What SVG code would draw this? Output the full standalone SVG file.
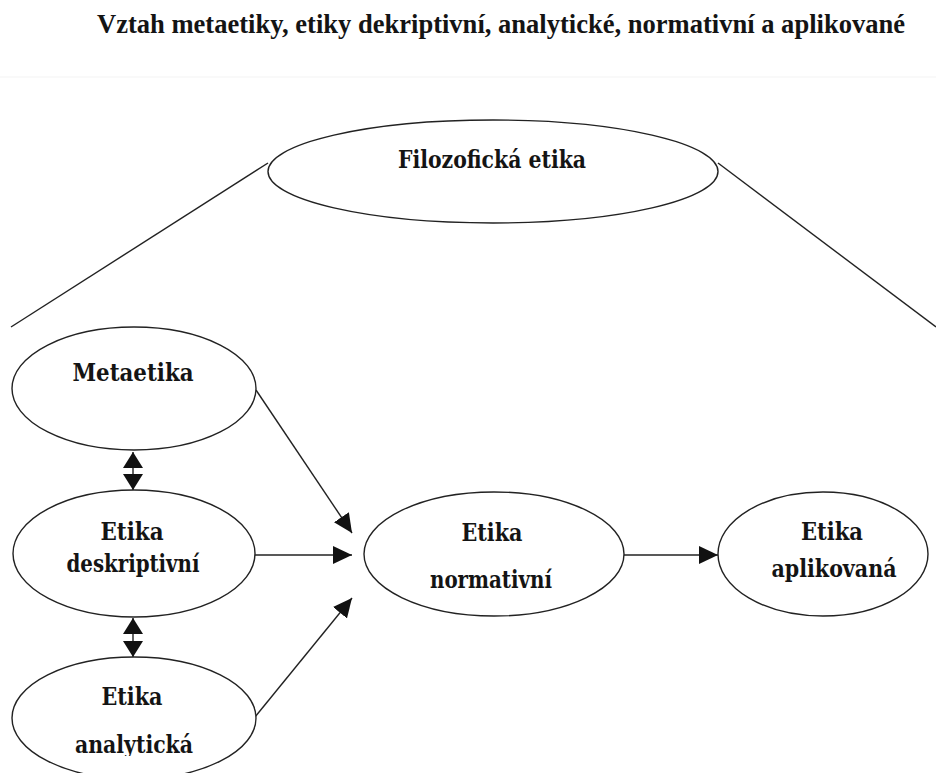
<svg xmlns="http://www.w3.org/2000/svg" width="936" height="773" viewBox="0 0 936 773">
  <style>
    .node { fill: #fff; stroke: #222; stroke-width: 1.4; }
    .lbl { font-family: "DejaVu Serif", "Liberation Serif", serif; font-stretch: condensed; font-weight: bold; fill: #141414; text-anchor: middle; font-size: 24px; }
    .edge { stroke: #222; stroke-width: 1.4; fill: none; }
    .title { font-family: "Liberation Serif", "Times New Roman", serif; font-weight: bold; fill: #141414; font-size: 26.5px; }
  </style>
  <defs>
    <marker id="arrow" markerUnits="userSpaceOnUse" markerWidth="20" markerHeight="18" refX="19" refY="9" orient="auto-start-reverse" viewBox="0 0 20 18">
      <path d="M0,0 L19,9 L0,18 z" fill="#111"/>
    </marker>
    <marker id="arrowV" markerUnits="userSpaceOnUse" markerWidth="16" markerHeight="20" refX="16" refY="10" orient="auto-start-reverse" viewBox="0 0 16 20">
      <path d="M0,0 L16,10 L0,20 z" fill="#111"/>
    </marker>
    <clipPath id="clipBottom">
      <rect x="0" y="0" width="936" height="756"/>
    </clipPath>
  </defs>
  <rect x="0" y="0" width="936" height="773" fill="#fff"/>
  <line x1="0" y1="77" x2="936" y2="77" stroke="#f3f3f3" stroke-width="1"/>

  <text class="title" x="501" y="33" text-anchor="middle" textLength="808" lengthAdjust="spacingAndGlyphs">Vztah metaetiky, etiky dekriptivní, analytické, normativní a aplikované</text>

  <g id="connectors">
    <line class="edge" x1="268" y1="163" x2="11" y2="327"/>
    <line class="edge" x1="718" y1="163" x2="936" y2="327"/>
    <line class="edge" x1="133" y1="452" x2="133" y2="490" marker-start="url(#arrowV)" marker-end="url(#arrowV)"/>
    <line class="edge" x1="133" y1="618" x2="133" y2="657" marker-start="url(#arrowV)" marker-end="url(#arrowV)"/>
    <line class="edge" x1="256" y1="390" x2="352" y2="533" marker-end="url(#arrow)"/>
    <line class="edge" x1="255" y1="555" x2="352" y2="555" marker-end="url(#arrow)"/>
    <line class="edge" x1="255" y1="717" x2="352" y2="598" marker-end="url(#arrow)"/>
    <line class="edge" x1="624" y1="555" x2="718" y2="555" marker-end="url(#arrow)"/>
  </g>

  <g id="filozoficka">
    <ellipse class="node" cx="493" cy="171.5" rx="225" ry="51.5"/>
    <text class="lbl" x="492" y="168" font-size="25" textLength="188" lengthAdjust="spacingAndGlyphs">Filozofická etika</text>
  </g>

  <g id="metaetika">
    <ellipse class="node" cx="134" cy="388.5" rx="122" ry="61.5"/>
    <text class="lbl" x="133" y="381" textLength="121" lengthAdjust="spacingAndGlyphs">Metaetika</text>
  </g>

  <g id="deskriptivni">
    <ellipse class="node" cx="134" cy="553.5" rx="121" ry="63.5"/>
    <text class="lbl" x="132" y="540" textLength="63" lengthAdjust="spacingAndGlyphs">Etika</text>
    <text class="lbl" x="133" y="572" textLength="133" lengthAdjust="spacingAndGlyphs">deskriptivní</text>
  </g>

  <g id="analyticka">
    <ellipse class="node" cx="134" cy="718" rx="122" ry="61"/>
    <text class="lbl" x="132" y="705" textLength="61" lengthAdjust="spacingAndGlyphs">Etika</text>
    <text class="lbl" x="134" y="753" textLength="118" lengthAdjust="spacingAndGlyphs" clip-path="url(#clipBottom)">analytická</text>
  </g>

  <g id="normativni">
    <ellipse class="node" cx="494" cy="554" rx="130" ry="62"/>
    <text class="lbl" x="492" y="541" textLength="61" lengthAdjust="spacingAndGlyphs">Etika</text>
    <text class="lbl" x="491" y="588" textLength="122" lengthAdjust="spacingAndGlyphs">normativní</text>
  </g>

  <g id="aplikovana">
    <ellipse class="node" cx="823" cy="554" rx="105" ry="62"/>
    <text class="lbl" x="832" y="540" textLength="62" lengthAdjust="spacingAndGlyphs">Etika</text>
    <text class="lbl" x="834" y="577" textLength="125" lengthAdjust="spacingAndGlyphs">aplikovaná</text>
  </g>
</svg>
